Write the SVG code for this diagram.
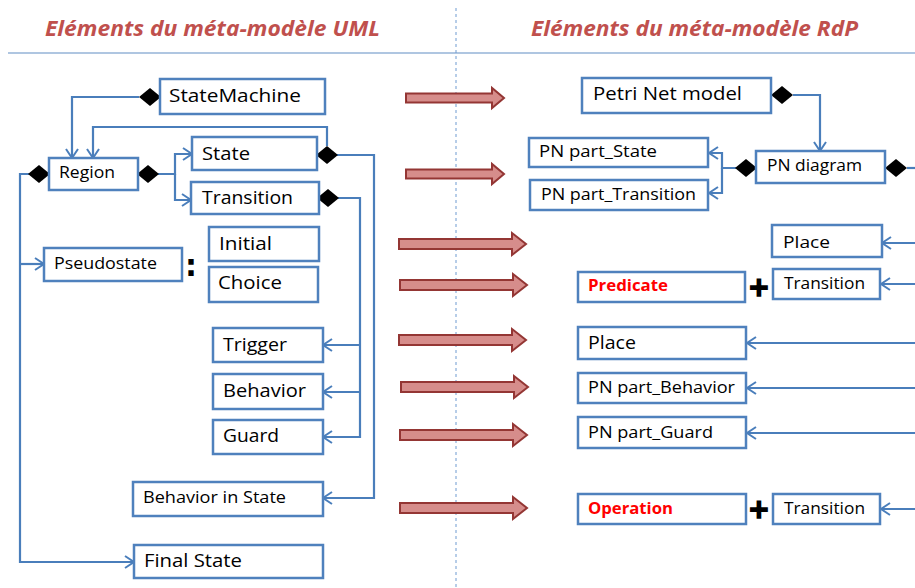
<svg xmlns="http://www.w3.org/2000/svg" xmlns:xlink="http://www.w3.org/1999/xlink" width="915" height="588" viewBox="0 0 915 588">
<style>
.box{fill:#ffffff;stroke:#4f81bd;stroke-width:2.5}
.t{font-family:"Open Sans","Liberation Sans",sans-serif;fill:#000000}
.red{font-family:"Open Sans","Liberation Sans",sans-serif;fill:#ff0000;font-weight:bold}
.title{font-family:"Open Sans","Liberation Sans",sans-serif;fill:#c0504d;font-weight:bold;font-style:italic;font-size:21px}
.con{fill:none;stroke:#4a7ebb;stroke-width:2.2}
.arr{marker-end:url(#head)}
.ba{fill:#d68d8b;stroke:#943634;stroke-width:2}
.sym{font-family:"DejaVu Sans",sans-serif;font-weight:bold;fill:#000000}
.plus{font-family:"DejaVu Sans",sans-serif;font-weight:bold;fill:#000000;stroke:#000000;stroke-width:1.6}
</style>
<defs>
<marker id="head" markerUnits="userSpaceOnUse" markerWidth="14" markerHeight="16" refX="10" refY="7" orient="auto" viewBox="0 0 14 16">
<path d="M1,1 L10,7 L1,13" fill="none" stroke="#4a7ebb" stroke-width="2"/>
</marker>
<polygon id="dia" points="-11,0 0,-9 11,0 0,9" fill="#000000"/>
<path id="baS" d="M0,-4.5 H86 V-10 L98,0 L86,10 V4.5 H0 Z"/>
<path id="baL" d="M0,-5 H113 V-11 L127,0 L113,11 V5 H0 Z"/>
</defs>

<g id="layout">
<line x1="8" y1="53" x2="915" y2="53" stroke="#95b3d7" stroke-width="1.5"/>
<line x1="456" y1="8" x2="456" y2="588" stroke="#6f9bd1" stroke-width="1" stroke-dasharray="3,3"/>
<text class="title" x="45" y="36" textLength="335" lengthAdjust="spacingAndGlyphs">Eléments du méta-modèle UML</text>
<text class="title" x="531" y="36" textLength="327" lengthAdjust="spacingAndGlyphs">Eléments du méta-modèle RdP</text>
</g>

<g id="connectors">
<path class="con arr" d="M139,97 H72 V158"/>
<path class="con arr" d="M327,146 V127 H93 V158"/>
<path class="con arr" d="M336,155 H374 V498 H323"/>
<path class="con arr" d="M338,198 H360 V437 H323"/>
<path class="con arr" d="M360,345 H323"/>
<path class="con arr" d="M360,392 H323"/>
<path class="con arr" d="M158,174 H175 V154 H192"/>
<path class="con arr" d="M175,174 V200 H191"/>
<path class="con arr" d="M29,174 H20 V562 H134"/>
<path class="con arr" d="M20,264 H44"/>
<path class="con arr" d="M793,95 H820 V151"/>
<path class="con arr" d="M736,168 H722 V153 H709"/>
<path class="con arr" d="M722,168 V193 H709"/>
<path class="con" d="M907,168 H915"/>
<path class="con arr" d="M915,243 H882"/>
<path class="con arr" d="M915,284 H881"/>
<path class="con arr" d="M915,343 H747"/>
<path class="con arr" d="M915,388 H747"/>
<path class="con arr" d="M915,433 H747"/>
<path class="con arr" d="M915,509 H881"/>
<use href="#dia" x="150" y="97"/>
<use href="#dia" x="327" y="155"/>
<use href="#dia" x="328" y="198"/>
<use href="#dia" x="148" y="174"/>
<use href="#dia" x="39" y="174"/>
<use href="#dia" x="782" y="95"/>
<use href="#dia" x="746" y="168"/>
<use href="#dia" x="896" y="168"/>
</g>

<g id="mapping-arrows">
<use href="#baS" class="ba" x="406" y="98"/>
<use href="#baS" class="ba" x="406" y="174"/>
<use href="#baL" class="ba" x="399" y="244"/>
<use href="#baL" class="ba" x="400" y="285"/>
<use href="#baL" class="ba" x="399" y="340"/>
<use href="#baL" class="ba" x="401" y="387"/>
<use href="#baL" class="ba" x="400" y="435"/>
<use href="#baL" class="ba" x="400" y="508"/>
</g>

<g id="n-statemachine"><rect class="box" x="160" y="79" width="165" height="35"/><text class="t" x="169" y="102" font-size="18" textLength="132" lengthAdjust="spacingAndGlyphs">StateMachine</text></g>
<g id="n-region"><rect class="box" x="49" y="158" width="89" height="32"/><text class="t" x="59" y="178" font-size="15.5" textLength="56" lengthAdjust="spacingAndGlyphs">Region</text></g>
<g id="n-state"><rect class="box" x="192" y="137" width="125" height="33"/><text class="t" x="202" y="160" font-size="18" textLength="48" lengthAdjust="spacingAndGlyphs">State</text></g>
<g id="n-transition"><rect class="box" x="191" y="182" width="128" height="32"/><text class="t" x="202" y="204" font-size="18" textLength="91" lengthAdjust="spacingAndGlyphs">Transition</text></g>
<g id="n-pseudostate"><rect class="box" x="44" y="248" width="138" height="33"/><text class="t" x="54" y="269" font-size="17" textLength="103" lengthAdjust="spacingAndGlyphs">Pseudostate</text></g>
<g id="colon"><text class="sym" x="191" y="276" font-size="30" text-anchor="middle">:</text></g>
<g id="n-initial"><rect class="box" x="209" y="227" width="110" height="34"/><text class="t" x="219" y="250" font-size="18" textLength="53" lengthAdjust="spacingAndGlyphs">Initial</text></g>
<g id="n-choice"><rect class="box" x="209" y="267" width="109" height="35"/><text class="t" x="218" y="289" font-size="18" textLength="64" lengthAdjust="spacingAndGlyphs">Choice</text></g>
<g id="n-trigger"><rect class="box" x="213" y="328" width="110" height="34"/><text class="t" x="223" y="351" font-size="18" textLength="64" lengthAdjust="spacingAndGlyphs">Trigger</text></g>
<g id="n-behavior"><rect class="box" x="213" y="374" width="110" height="35"/><text class="t" x="223" y="397" font-size="18" textLength="83" lengthAdjust="spacingAndGlyphs">Behavior</text></g>
<g id="n-guard"><rect class="box" x="213" y="420" width="110" height="34"/><text class="t" x="223" y="442" font-size="18" textLength="56" lengthAdjust="spacingAndGlyphs">Guard</text></g>
<g id="n-behaviorinstate"><rect class="box" x="133" y="482" width="190" height="34"/><text class="t" x="143" y="503" font-size="16.5" textLength="143" lengthAdjust="spacingAndGlyphs">Behavior in State</text></g>
<g id="n-finalstate"><rect class="box" x="134" y="545" width="189" height="33"/><text class="t" x="144" y="567" font-size="18" textLength="98" lengthAdjust="spacingAndGlyphs">Final State</text></g>

<g id="n-petrinetmodel"><rect class="box" x="582" y="78" width="189" height="35"/><text class="t" x="593" y="100" font-size="17.5" textLength="149" lengthAdjust="spacingAndGlyphs">Petri Net model</text></g>
<g id="n-pnpartstate"><rect class="box" x="529" y="138" width="179" height="29"/><text class="t" x="539" y="157" font-size="15.5" textLength="118" lengthAdjust="spacingAndGlyphs">PN part_State</text></g>
<g id="n-pnparttransition"><rect class="box" x="530" y="180" width="178" height="30"/><text class="t" x="541" y="200" font-size="15.5" textLength="155" lengthAdjust="spacingAndGlyphs">PN part_Transition</text></g>
<g id="n-pndiagram"><rect class="box" x="756" y="151" width="129" height="32"/><text class="t" x="767" y="171" font-size="15.5" textLength="95" lengthAdjust="spacingAndGlyphs">PN diagram</text></g>
<g id="n-place1"><rect class="box" x="772" y="225" width="110" height="32"/><text class="t" x="783" y="248" font-size="17" textLength="47" lengthAdjust="spacingAndGlyphs">Place</text></g>
<g id="n-predicate"><rect class="box" x="578" y="272" width="167" height="30"/><text class="red" x="588" y="291" font-size="15.5" textLength="80" lengthAdjust="spacingAndGlyphs">Predicate</text></g>
<g id="plus1"><text class="plus" x="759" y="296" font-size="26" text-anchor="middle">+</text></g>
<g id="n-transition1"><rect class="box" x="773" y="269" width="107" height="30"/><text class="t" x="784" y="289" font-size="16.5" textLength="81" lengthAdjust="spacingAndGlyphs">Transition</text></g>
<g id="n-place2"><rect class="box" x="578" y="327" width="168" height="32"/><text class="t" x="588" y="349" font-size="18" textLength="48" lengthAdjust="spacingAndGlyphs">Place</text></g>
<g id="n-pnpartbehavior"><rect class="box" x="578" y="373" width="168" height="30"/><text class="t" x="588" y="393" font-size="16" textLength="147" lengthAdjust="spacingAndGlyphs">PN part_Behavior</text></g>
<g id="n-pnpartguard"><rect class="box" x="578" y="417" width="168" height="31"/><text class="t" x="588" y="438" font-size="17" textLength="125" lengthAdjust="spacingAndGlyphs">PN part_Guard</text></g>
<g id="n-operation"><rect class="box" x="578" y="494" width="168" height="30"/><text class="red" x="588" y="514" font-size="16" textLength="85" lengthAdjust="spacingAndGlyphs">Operation</text></g>
<g id="plus2"><text class="plus" x="759" y="518" font-size="26" text-anchor="middle">+</text></g>
<g id="n-transition2"><rect class="box" x="773" y="494" width="107" height="30"/><text class="t" x="784" y="514" font-size="17" textLength="81" lengthAdjust="spacingAndGlyphs">Transition</text></g>
</svg>
